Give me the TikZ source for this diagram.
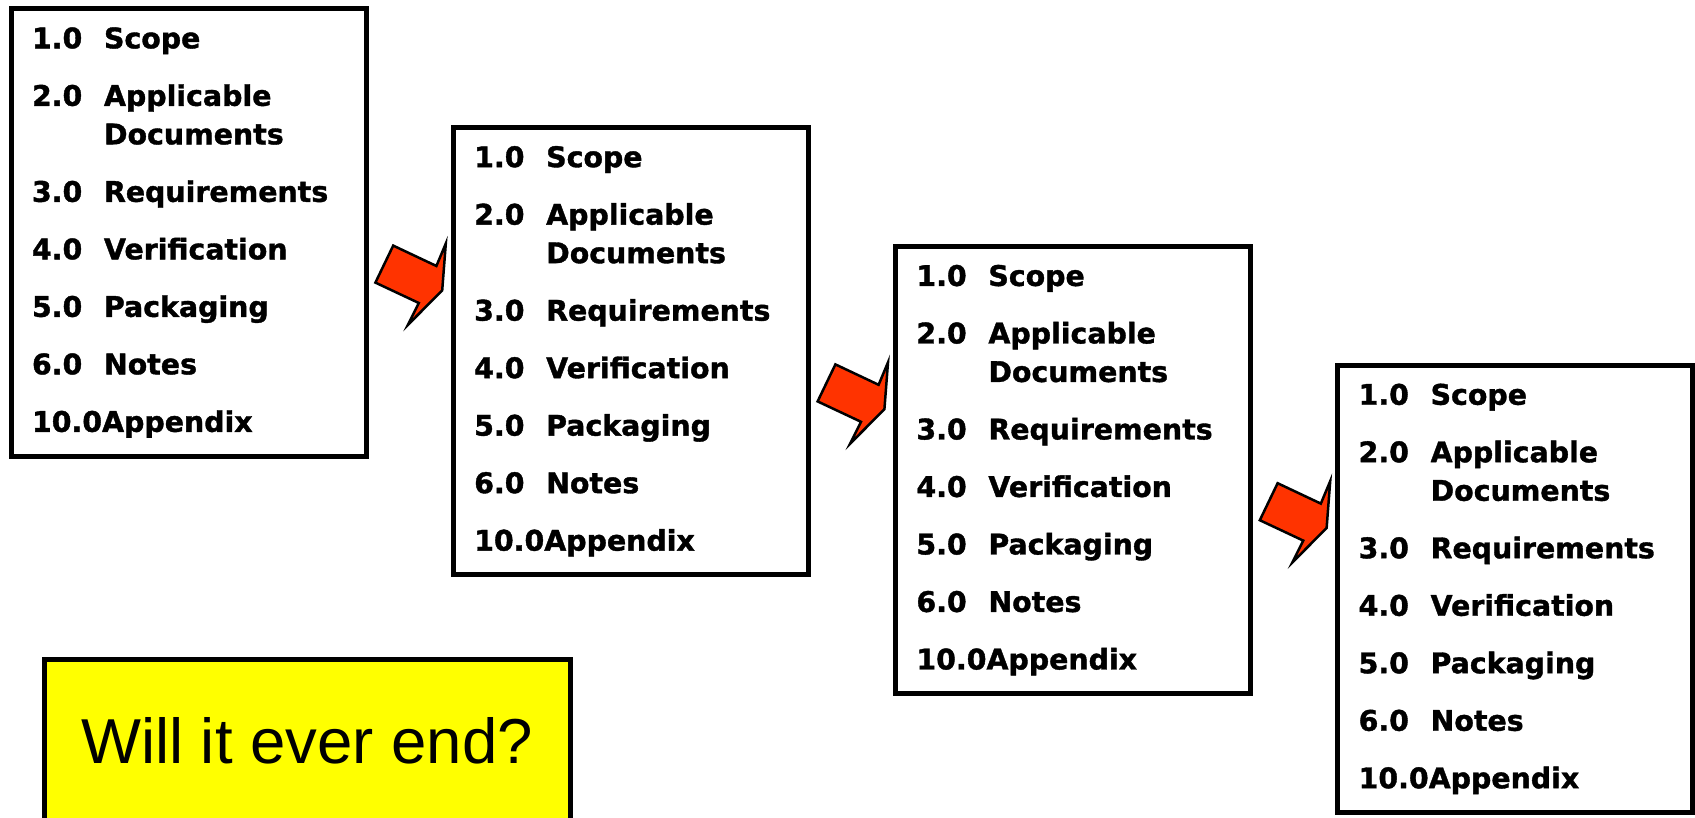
\documentclass[tikz,border=0pt]{standalone}
\usepackage{fontspec}
\newfontfamily\tocfont{DejaVu Sans}[BoldFeatures = {FakeBold = 1.3}]
\newfontfamily\notefont{Liberation Sans}
\usepackage{tikz}
\usetikzlibrary{
    positioning
}
\definecolor{arrowred}{RGB}{255,51,0}
\definecolor{noteyellow}{RGB}{255,255,0}
\newcommand{\tocentry}[2]{\makebox[72bp][l]{#1}#2}
\newcommand{\tocbody}{%
    \tocentry{1.0}{Scope}\\[19bp]
    \tocentry{2.0}{Applicable}\\
    \tocentry{}{Documents}\\[19bp]
    \tocentry{3.0}{Requirements}\\[19bp]
    \tocentry{4.0}{Verification}\\[19bp]
    \tocentry{5.0}{Packaging}\\[19bp]
    \tocentry{6.0}{Notes}\\[19bp]
    10.0Appendix%
}
\tikzset{
    docbox/.style = {
        draw,
        line width = 5bp,
        rectangle,
        anchor = north west,
        outer sep = 0pt,
        inner xsep = 21bp,
        inner ysep = 0pt,
        text width = 313bp,
        minimum height = 447bp,
        align = left,
        font = \tocfont\bfseries\fontsize{28.4bp}{38.5bp}\selectfont
    },
    notebox/.style = {
        draw,
        line width = 5bp,
        fill = noteyellow,
        anchor = north west,
        outer sep = 0pt,
        minimum width = 526bp,
        minimum height = 164bp,
        font = \notefont\fontsize{63.5bp}{70bp}\selectfont
    },
    arrowfill/.style = {
        draw,
        line width = 2.5bp,
        line join = miter,
        fill = arrowred
    },
    nextarrow/.pic = {
        \path[arrowfill] (27.2,236.6) -- (70.4,257) -- (79.8,234.5)
            -- (76.2,281.4) -- (41.8,316) -- (52.8,294) -- (9.4,273.6) -- cycle;
    }
}

\begin{document}
\begin{tikzpicture}[x = 1bp, y = -1bp]
    \useasboundingbox (0,0) rectangle (1695,818);

    \node[docbox] (doc1) at (11,9) {\tocbody};
    \node[docbox] [below right = 118.8bp and 87.2bp of doc1.north east] (doc2) {\tocbody};
    \node[docbox] [below right = 118.8bp and 87.2bp of doc2.north east] (doc3) {\tocbody};
    \node[docbox] [below right = 118.8bp and 87.2bp of doc3.north east] (doc4) {\tocbody};

    \pic at (doc1.north east) {nextarrow};
    \pic at (doc2.north east) {nextarrow};
    \pic at (doc3.north east) {nextarrow};

    \node[notebox] (ending) at (44,659) {Will it ever end?};
\end{tikzpicture}
\end{document}
